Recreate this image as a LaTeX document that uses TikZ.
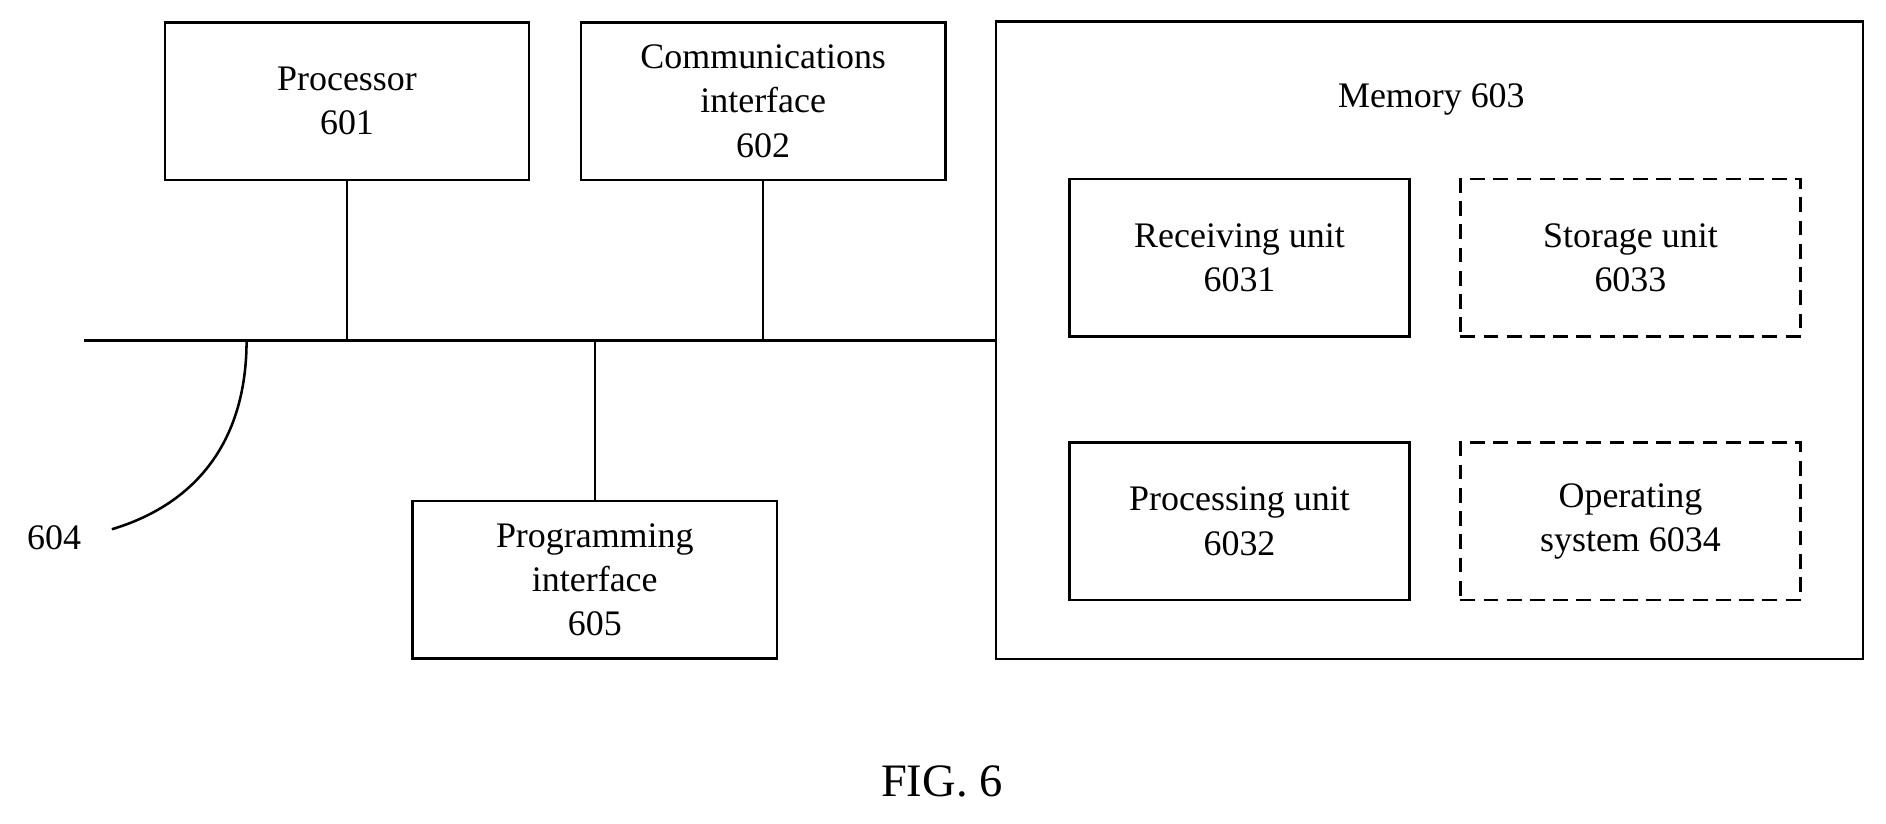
\documentclass[tikz,border=0pt]{standalone}
\usepackage{fontspec}
\setmainfont{Liberation Serif}
\usetikzlibrary{positioning}

\begin{document}
\begin{tikzpicture}[x=0.02cm,y=-0.02cm,
    blk/.style={draw,line width=1.2pt,minimum width=6.06cm,minimum height=2.62cm,
      align=center,font=\fontsize{17}{21}\selectfont},
    opt/.style={blk,dashed,dash pattern=on 7pt off 4pt},
    wire/.style={line width=1.2pt}]
  \useasboundingbox (0,0) rectangle (1568,685);

  \node[blk] (proc) at (288.5,84) {Processor\\601};
  \node[blk] (comm) at (634.5,84) {Communications\\interface\\602};
  \node[blk,minimum width=14.42cm,minimum height=10.6cm] (mem) at (1188.5,283) {};
  \node[font=\fontsize{17}{21}\selectfont] (memlbl) at (1190,83) {Memory 603};
  \node[blk,minimum width=5.66cm] (recv) at (1030.5,214.5) {Receiving unit\\6031};
  \node[opt,minimum width=5.66cm] (stor) at (1355.5,214.5) {Storage unit\\6033};
  \node[blk,minimum width=5.66cm] (pu) at (1030.5,433.5) {Processing unit\\6032};
  \node[opt,minimum width=5.66cm] (os) at (1355.5,433.5) {Operating\\system 6034};
  \node[blk] (prog) at (494.5,482) {Programming\\interface\\605};

  % bus
  \coordinate (busl) at (70,283);
  \draw[wire] (busl) -- (mem.west |- busl);
  \draw[wire] (proc.south) -- (proc.south |- busl);
  \draw[wire] (comm.south) -- (comm.south |- busl);
  \draw[wire] (prog.north) -- (prog.north |- busl);

  \coordinate (tap) at (205,283);
  \node[font=\fontsize{17}{21}\selectfont] (lbl) at (45,447) {604};
  \coordinate (tail) at (93,440);
  \draw[wire] (tap) .. controls (205,370) and (160,420) .. (tail);

  \node[font=\fontsize{22}{26}\selectfont] (fig) at (783,650) {FIG. 6};
\end{tikzpicture}
\end{document}
